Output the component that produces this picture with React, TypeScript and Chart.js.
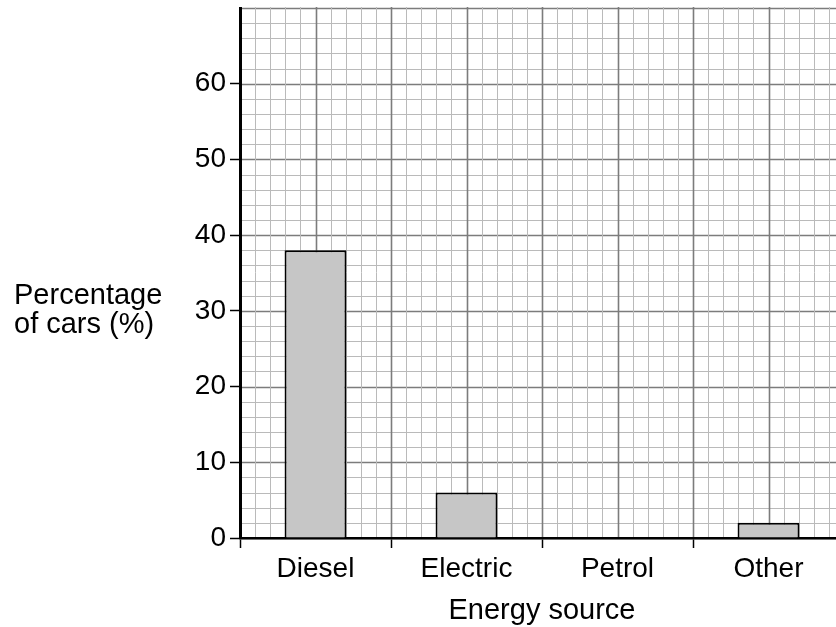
import React, { useEffect, useRef } from "react";
import { Chart, registerables } from "chart.js";

Chart.register(...registerables);

const categories = ["Diesel", "Electric", "Petrol", "Other"];
const percentages = [38, 6, 0, 2];
const yTickValues = [0, 10, 20, 30, 40, 50, 60];
const yTitleLines = ["Percentage", "of cars (%)"];
const xTitle = "Energy source";

const FONT = '"Liberation Sans", Arial, sans-serif';

const gridPlugin = {
  id: "paperGrid",
  beforeDraw(chart: any) {
    const { ctx, chartArea, scales } = chart;
    const y = scales.y;
    const x = scales.x;
    ctx.save();
    ctx.fillStyle = "#ffffff";
    ctx.fillRect(0, 0, chart.width, chart.height);
    // horizontal lines every 2 units
    for (let v = 0; v <= 70; v += 2) {
      const py = Math.round(y.getPixelForValue(v)) + 0.5;
      const major = v % 10 === 0;
      ctx.strokeStyle = major ? "#7c7c7c" : "#bababa";
      ctx.lineWidth = major ? 1.6 : 1;
      ctx.beginPath();
      ctx.moveTo(chartArea.left, py);
      ctx.lineTo(chartArea.right, py);
      ctx.stroke();
    }
    // vertical lines: 10 per category
    const catW = (x.right - x.left) / categories.length;
    const n = categories.length * 10;
    for (let k = 0; k <= n; k++) {
      const px = Math.round(x.left + (k * catW) / 10) + 0.5;
      const major = k % 5 === 0;
      ctx.strokeStyle = major ? "#7c7c7c" : "#bababa";
      ctx.lineWidth = major ? 1.6 : 1;
      ctx.beginPath();
      ctx.moveTo(px, chartArea.top - 1);
      ctx.lineTo(px, chartArea.bottom);
      ctx.stroke();
    }
    ctx.restore();
  },
  afterDraw(chart: any) {
    const { ctx, chartArea } = chart;
    ctx.save();
    ctx.fillStyle = "#000000";
    ctx.font = `29px ${FONT}`;
    ctx.textBaseline = "alphabetic";
    ctx.textAlign = "left";
    ctx.fillText(yTitleLines[0], 14, 304);
    ctx.fillText(yTitleLines[1], 14, 333);
    ctx.textAlign = "center";
    ctx.fillText(xTitle, (chartArea.left + chartArea.right) / 2, 619);
    ctx.restore();
  },
};

export default function App() {
  const ref = useRef<HTMLCanvasElement | null>(null);

  useEffect(() => {
    if (!ref.current) return;
    const chart = new Chart(ref.current, {
      type: "bar",
      data: {
        labels: categories,
        datasets: [
          {
            data: percentages,
            backgroundColor: "#c6c6c6",
            borderColor: "#000000",
            borderWidth: 2,
            barPercentage: 0.41,
            categoryPercentage: 1,
          },
        ],
      },
      options: {
        responsive: false,
        animation: false,
        devicePixelRatio: 1,
        layout: { padding: { top: 8, right: 6, left: 0, bottom: 0 } },
        plugins: {
          legend: { display: false },
          tooltip: { enabled: false },
        },
        scales: {
          x: {
            offset: true,
            grid: {
              display: true,
              drawOnChartArea: false,
              offset: true,
              tickLength: 10,
              tickColor: "#000000",
              tickWidth: 1.5,
            },
            border: { display: true, color: "#000000", width: 2.5 },
            ticks: {
              color: "#000000",
              font: { family: FONT, size: 28 },
              padding: 4,
              maxRotation: 0,
              autoSkip: false,
            },
            afterFit(scale: any) {
              scale.height = 89;
              scale.paddingLeft = 0;
              scale.paddingRight = 0;
            },
          },
          y: {
            min: 0,
            max: 70,
            afterBuildTicks(scale: any) {
              scale.ticks = yTickValues.map((v) => ({ value: v }));
            },
            grid: {
              display: true,
              drawOnChartArea: false,
              tickLength: 10,
              tickColor: "#000000",
              tickWidth: 1.5,
            },
            border: { display: true, color: "#000000", width: 3 },
            ticks: {
              color: "#000000",
              font: { family: FONT, size: 28 },
              padding: 4,
              autoSkip: false,
            },
            afterFit(scale: any) {
              scale.width = 240;
              scale.paddingTop = 0;
              scale.paddingBottom = 0;
            },
          },
        },
      },
      plugins: [gridPlugin],
    });
    return () => chart.destroy();
  }, []);

  return (
    <div
      style={{
        position: "fixed",
        left: 0,
        top: 0,
        width: 836,
        height: 627,
        overflow: "hidden",
        background: "#ffffff",
      }}
    >
      <canvas ref={ref} width={850} height={627} style={{ display: "block" }} />
    </div>
  );
}
